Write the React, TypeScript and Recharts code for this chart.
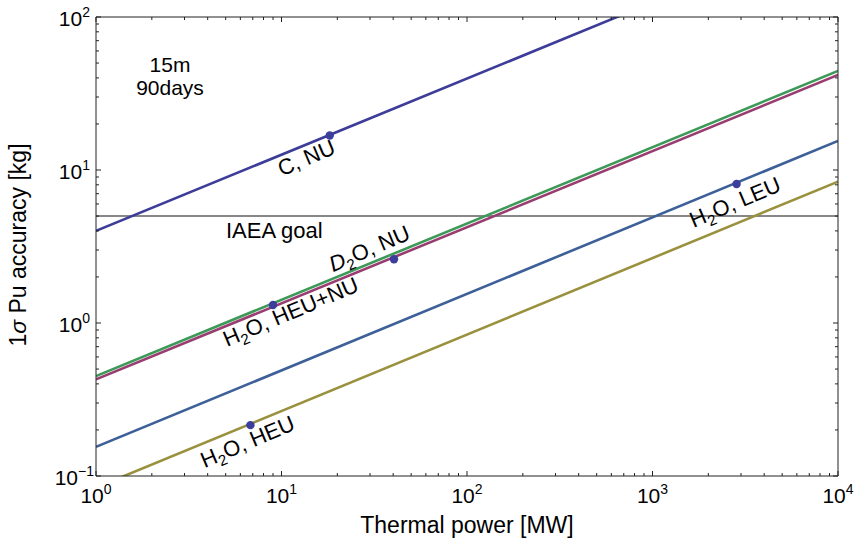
import { ComposedChart, Line, Scatter, XAxis, YAxis, ReferenceLine } from "recharts";

const FONT = "'Liberation Sans', Arial, Helvetica, sans-serif";

// axes (log-log)
const powerDomain = [1, 10000]; // MW
const accuracyDomain = [0.1, 100]; // kg
const powerDecades = [1, 10, 100, 1000, 10000];
const accuracyDecades = [0.1, 1, 10, 100];

// line ends: accuracy at 1 MW and at 10^4 MW
const lineEnds = [1, 10000];
const cNU = [4.0, 392];
const d2oNU = [0.45, 44.4];
const h2oHeuNu = [0.428, 41.8];
const h2oLEU = [0.155, 15.5];
const h2oHEU = [0.084, 8.4];
const iaeaGoal = 5;

// marked reactors
const pointPower = [18.2, 40.4, 9.0, 2840, 6.8];
const pointAccuracy = [16.8, 2.61, 1.31, 8.1, 0.215];
const pointNames = ["C, NU", "D_2O, NU", "H_2O, HEU+NU", "H_2O, LEU", "H_2O, HEU"];

// label placement relative to each point (px)
const labelOffsets = [
  [-48, 41],
  [-61, 13],
  [-46, 42],
  [-43, 44],
  [-46, 43],
];
const LABEL_ANGLE = -23;

const seriesData = (vals: number[]) => lineEnds.map((x, i) => ({ x, y: vals[i] }));
const points = pointPower.map((x, i) => ({ x, y: pointAccuracy[i], name: pointNames[i], i }));

const minorTicks = (decades: number[]) => {
  const out: number[] = [];
  decades.slice(0, -1).forEach((d) => {
    for (let k = 1; k < 10; k++) out.push(+(d * k).toPrecision(6));
  });
  out.push(decades[decades.length - 1]);
  return out;
};
const xTicks = minorTicks(powerDecades);
const yTicks = minorTicks(accuracyDecades);

const isDecade = (v: number) => Math.abs(Math.log10(v) - Math.round(Math.log10(v))) < 1e-6;

function AxisTick(props: any) {
  const { x, y, payload, side } = props;
  const v = payload.value;
  const major = isDecade(v);
  const len = major ? 5 : 3;
  const exp = Math.round(Math.log10(v));
  const expText = exp < 0 ? `\u2212${-exp}` : `${exp}`;
  const stroke = "#222";

  if (side === "bottom") {
    return (
      <g>
        <line x1={x} x2={x} y1={y} y2={y - len} stroke={stroke} />
        {major && (
          <text x={x} y={y + 27} textAnchor="middle" fontSize={21} fill="#000" fontFamily={FONT}>
            10<tspan dy={-9} fontSize={14}>{expText}</tspan>
          </text>
        )}
      </g>
    );
  }
  if (side === "left") {
    return (
      <g>
        <line x1={x} x2={x + len} y1={y} y2={y} stroke={stroke} />
        {major && (
          <text x={x - (exp < 0 ? 2 : 6)} y={y + 9} textAnchor="end" fontSize={21} fill="#000" fontFamily={FONT}>
            10<tspan dy={-9} fontSize={14}>{expText}</tspan>
          </text>
        )}
      </g>
    );
  }
  if (side === "top") {
    return <line x1={x} x2={x} y1={y} y2={y + len} stroke={stroke} />;
  }
  return <line x1={x} x2={x - len} y1={y} y2={y} stroke={stroke} />;
}

function LabelText({ name, x, y }: { name: string; x: number; y: number }) {
  // "_2" -> subscript 2; leading D of D2O drawn in italics
  const parts = name.split(/_(\d)/);
  return (
    <text
      x={x}
      y={y}
      fontSize={22}
      fill="#000"
      fontFamily={FONT}
      transform={`rotate(${LABEL_ANGLE}, ${x}, ${y})`}
    >
      {parts.map((p, k) =>
        k % 2 === 1 ? (
          <tspan key={k} dy={5} fontSize={15}>
            {p}
          </tspan>
        ) : k > 0 ? (
          <tspan key={k} dy={-5} fontSize={22}>
            {p}
          </tspan>
        ) : p === "D" ? (
          <tspan key={k} fontStyle="italic">
            {p}
          </tspan>
        ) : (
          <tspan key={k}>{p}</tspan>
        )
      )}
    </text>
  );
}

function PointShape(props: any) {
  const { cx, cy, payload } = props;
  const [dx, dy] = labelOffsets[payload.i];
  return (
    <g>
      <circle cx={cx} cy={cy} r={4.2} fill="#3d3d9c" />
      <LabelText name={payload.name} x={cx + dx} y={cy + dy} />
    </g>
  );
}

export default function App() {
  return (
    <div style={{ position: "absolute", left: 0, top: 0, fontFamily: FONT }}>
      <ComposedChart width={857} height={552} margin={{ top: 0, right: 0, bottom: 0, left: 0 }}>
        <XAxis
          dataKey="x"
          type="number"
          scale="log"
          domain={powerDomain}
          allowDataOverflow
          ticks={xTicks}
          interval={0}
          tickSize={0}
          tickMargin={0}
          height={76}
          axisLine={{ stroke: "#222" }}
          tick={(p: any) => <AxisTick {...p} side="bottom" />}
        />
        <XAxis
          xAxisId="top"
          orientation="top"
          dataKey="x"
          type="number"
          scale="log"
          domain={powerDomain}
          allowDataOverflow
          ticks={xTicks}
          interval={0}
          tickSize={0}
          tickMargin={0}
          height={17}
          axisLine={{ stroke: "#222" }}
          tick={(p: any) => <AxisTick {...p} side="top" />}
        />
        <YAxis
          dataKey="y"
          type="number"
          scale="log"
          domain={accuracyDomain}
          allowDataOverflow
          ticks={yTicks}
          interval={0}
          tickSize={0}
          tickMargin={0}
          width={96}
          axisLine={{ stroke: "#222" }}
          tick={(p: any) => <AxisTick {...p} side="left" />}
        />
        <YAxis
          yAxisId="right"
          orientation="right"
          dataKey="y"
          type="number"
          scale="log"
          domain={accuracyDomain}
          allowDataOverflow
          ticks={yTicks}
          interval={0}
          tickSize={0}
          tickMargin={0}
          width={19}
          axisLine={{ stroke: "#222" }}
          tick={(p: any) => <AxisTick {...p} side="right" />}
        />

        <ReferenceLine y={iaeaGoal} stroke="#111" strokeWidth={1.1} />

        <Line data={seriesData(cNU)} dataKey="y" stroke="#3d3d99" strokeWidth={2.6} dot={false} isAnimationActive={false} />
        <Line data={seriesData(d2oNU)} dataKey="y" stroke="#3d9957" strokeWidth={2.6} dot={false} isAnimationActive={false} />
        <Line data={seriesData(h2oHeuNu)} dataKey="y" stroke="#993d71" strokeWidth={2.6} dot={false} isAnimationActive={false} />
        <Line data={seriesData(h2oLEU)} dataKey="y" stroke="#3d6099" strokeWidth={2.6} dot={false} isAnimationActive={false} />
        <Line data={seriesData(h2oHEU)} dataKey="y" stroke="#99913d" strokeWidth={2.6} dot={false} isAnimationActive={false} />

        <Scatter data={points} dataKey="y" shape={<PointShape />} isAnimationActive={false} />

        <text x={170} y={72} textAnchor="middle" fontSize={21} fontFamily={FONT}>15m</text>
        <text x={170} y={95} textAnchor="middle" fontSize={21} fontFamily={FONT}>90days</text>
        <text x={226} y={238} fontSize={22} fontFamily={FONT}>IAEA goal</text>
        <text x={467} y={533} textAnchor="middle" fontSize={23} fontFamily={FONT}>Thermal power [MW]</text>
        <text x={26} y={245} textAnchor="middle" fontSize={23} fontFamily={FONT} transform="rotate(-90, 26, 245)">
          1<tspan fontStyle="italic">σ</tspan> Pu accuracy [kg]
        </text>
      </ComposedChart>
    </div>
  );
}
